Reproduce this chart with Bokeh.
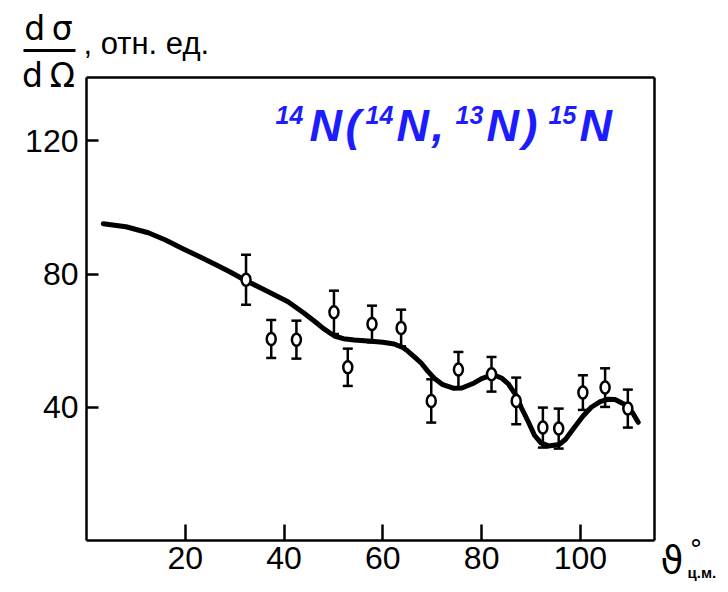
from bokeh.plotting import figure
from bokeh.models import Range1d, FixedTicker, Label, BoxAnnotation, LinearAxis
from bokeh.embed import file_html
from bokeh.resources import INLINE

# ---- data ----
curve_theta = [3.4, 8.0, 12.5, 16.0, 19.2, 22.5, 25.9, 29.0, 32.3, 36.0, 40.8, 44.0, 46.1, 48.0,
               50.2, 52.0, 54.2, 57.6, 60.0, 62.3, 64.0, 65.1, 66.5, 67.8, 69.0, 70.4, 72.0,
               74.4, 76.0, 78.5, 80.0, 82.3, 84.0, 85.4, 87.0, 88.0, 89.5, 90.7, 92.0, 93.5,
               95.7, 97.0, 98.8, 100.5, 102.2, 104.0, 105.6, 107.0, 108.9, 110.5, 111.7]
curve_sigma = [95.1, 94.2, 92.4, 90.2, 87.8, 85.5, 83.0, 80.7, 78.0, 75.3, 71.7, 68.3, 65.9, 63.6,
               61.4, 60.6, 60.2, 59.8, 59.5, 59.0, 58.0, 56.8, 55.0, 53.2, 51.0, 48.7, 46.9,
               45.7, 45.8, 47.3, 48.6, 49.8, 48.8, 47.0, 43.5, 40.0, 35.5, 31.6, 29.3, 28.4,
               28.8, 30.4, 34.0, 37.3, 40.0, 41.7, 42.4, 42.3, 40.9, 38.5, 35.5]

theta = [32.3, 37.4, 42.5, 50.1, 52.9, 57.8, 63.7, 69.8, 75.3, 82.0, 87.0, 92.4, 95.6, 100.5, 105.0, 109.6]
sigma = [78.3, 60.5, 60.3, 68.5, 52.0, 65.0, 63.8, 41.9, 51.3, 49.9, 41.9, 33.9, 33.6, 44.4, 45.9, 39.6]
err = [7.5, 5.7, 5.7, 6.5, 5.6, 5.5, 5.5, 6.5, 5.3, 5.2, 7.0, 6.0, 6.0, 5.2, 5.8, 5.7]

x_ticks = [20, 40, 60, 80, 100]
y_ticks = [40, 80, 120]

# title formula pieces (superscript flag)
title_parts = ["14", "N", "(", "14", "N", ",", "13", "N", ")", "15", "N"]
title_sup = [True, False, False, True, False, False, True, False, False, True, False]

# ---- layout (pixels of the canvas) ----
W, H = 720, 584
BOX_L, BOX_R, BOX_T, BOX_B = 86, 654, 77, 540      # plot box in canvas pixels
X0, X1, Y0, Y1 = 0, 115, 0, 139                     # data extent of the plot box
SX = (BOX_R - BOX_L) / (X1 - X0)
SY = (BOX_B - BOX_T) / (Y1 - Y0)


def dx(px):
    return X0 + (px - BOX_L) / SX


def dy(py):
    return Y0 + (BOX_B - py) / SY


p = figure(width=W, height=H, output_backend="svg", toolbar_location=None,
           x_range=Range1d(dx(0), dx(W)), y_range=Range1d(dy(H), dy(0)),
           x_axis_location=None, y_axis_location=None, min_border=0)
p.grid.visible = False
p.outline_line_color = None
p.background_fill_color = "white"
p.border_fill_color = "white"

TICK_FONT = "Liberation Sans"


def style_axis(ax, tin, stand):
    ax.major_tick_in = tin
    ax.major_tick_out = 0
    ax.minor_tick_in = 0
    ax.minor_tick_out = 0
    ax.axis_line_width = 2.5
    ax.axis_line_color = "black"
    ax.major_tick_line_width = 2.5
    ax.major_tick_line_color = "black"
    ax.major_label_text_font = TICK_FONT
    ax.major_label_text_font_size = "32px"
    ax.major_label_text_color = "black"
    ax.major_label_standoff = stand


xaxis = LinearAxis(fixed_location=Y0, bounds=(X0, X1), ticker=FixedTicker(ticks=x_ticks))
style_axis(xaxis, 16, 6)
p.add_layout(xaxis, "below")
yaxis = LinearAxis(fixed_location=X0, bounds=(Y0, Y1), ticker=FixedTicker(ticks=y_ticks))
style_axis(yaxis, 12, 8)
p.add_layout(yaxis, "left")
top = LinearAxis(fixed_location=Y1, bounds=(X0, X1), ticker=FixedTicker(ticks=[]))
style_axis(top, 0, 0)
p.add_layout(top, "above")
right = LinearAxis(fixed_location=X1, bounds=(Y0, Y1), ticker=FixedTicker(ticks=[]))
style_axis(right, 0, 0)
p.add_layout(right, "right")

# curve
p.line(curve_theta, curve_sigma, line_color="black", line_width=5, line_cap="round", line_join="round")

# error bars
lo = [s - e for s, e in zip(sigma, err)]
hi = [s + e for s, e in zip(sigma, err)]
p.segment(x0=theta, y0=lo, x1=theta, y1=hi, line_color="black", line_width=2.5)
p.scatter(theta, lo, marker="dash", size=10, line_color="black", line_width=2.5)
p.scatter(theta, hi, marker="dash", size=10, line_color="black", line_width=2.5)
p.ellipse(x=theta, y=sigma, width=9, height=12, width_units="screen", height_units="screen",
          fill_color="white", line_color="black", line_width=2.5)


def label(px, py, text, size, font="Liberation Sans", style="normal", color="black", align="left"):
    p.add_layout(Label(x=dx(px), y=dy(py), text=text, text_font=font, text_font_style=style,
                       text_font_size=size, text_color=color, text_align=align,
                       text_baseline="middle"))


# title (blue formula), pixel positions of each piece
title_x = [275, 309, 345, 365, 396, 431, 455, 486, 522, 548, 579]
for t, sup, cx in zip(title_parts, title_sup, title_x):
    label(cx, 114 if sup else 125, t, "25px" if sup else "45px", style="bold italic", color="#1c1cff")

# y label  dσ/dΩ , отн. ед.
label(48, 28, "d\u2009σ", "33px", font="DejaVu Sans", align="center")
p.add_layout(BoxAnnotation(left=dx(23), right=dx(75), top=dy(48.5), bottom=dy(51.5),
                           fill_color="black", fill_alpha=1.0, line_alpha=0))
label(48, 75, "d\u2009Ω", "33px", font="DejaVu Sans", align="center")
label(83, 43, ", отн. ед.", "31px")

# x label  ϑ° ц.м.
label(660, 560, "ϑ", "37px", font="DejaVu Sans")
label(689, 549, "°", "26px", font="DejaVu Sans")
label(687, 572, "ц.м.", "15px", style="bold")

open("out.html", "w").write(file_html(p, INLINE))
